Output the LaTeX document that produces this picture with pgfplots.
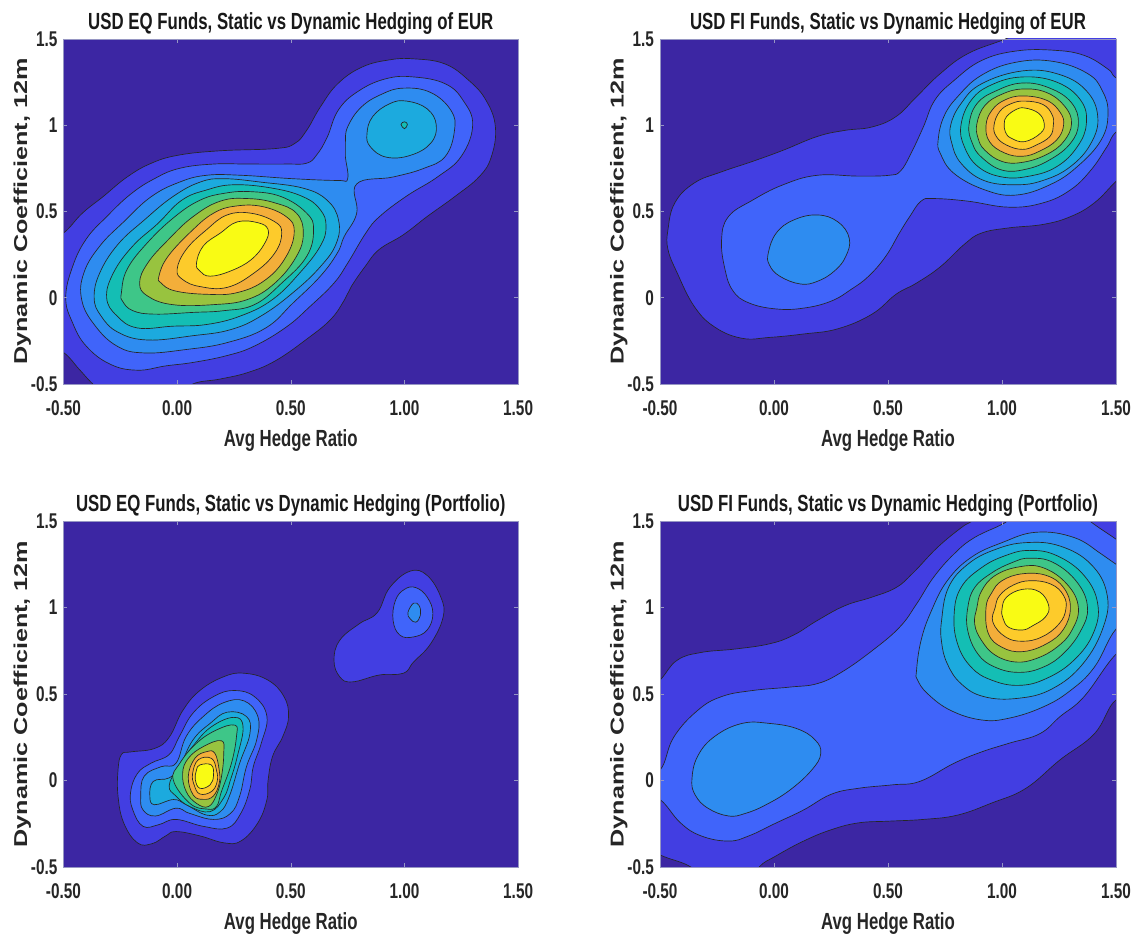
\documentclass[border=0pt]{standalone}
\usepackage{fontspec}
\usepackage{pgfplots}
\pgfplotsset{compat=1.18}
\setmainfont{Liberation Sans}
\newfontfamily\narrowfont{Liberation Sans}[FakeStretch=0.72]
\newfontfamily\widefont{Liberation Sans}[FakeStretch=1.35]
\definecolor{c0}{RGB}{60,38,163}
\definecolor{c1}{RGB}{66,62,226}
\definecolor{c2}{RGB}{64,100,250}
\definecolor{c3}{RGB}{46,140,240}
\definecolor{c4}{RGB}{28,170,222}
\definecolor{c5}{RGB}{20,190,180}
\definecolor{c6}{RGB}{62,198,136}
\definecolor{c7}{RGB}{152,195,63}
\definecolor{c8}{RGB}{243,174,58}
\definecolor{c9}{RGB}{253,203,43}
\definecolor{c10}{RGB}{249,251,20}
\definecolor{frame}{RGB}{150,150,195}
\pgfplotsset{
  cont/.style={smooth cycle,tension=0.7,draw=black!85,line width=0.5pt,fill=#1,mark=none},
  panel/.style={
    scale only axis,anchor=south west,
    xmin=-0.5,xmax=1.5,ymin=-0.5,ymax=1.5,
    axis background/.style={fill=c0},
    axis on top,
    axis line style={frame,line width=0.6pt},
    tick style={frame,line width=0.4pt},
    major tick length=3pt,
    tick pos=both,
    xtick={-0.5,0,0.5,1,1.5},
    ytick={-0.5,0,0.5,1,1.5},
    xticklabels={-0.50,0.00,0.50,1.00,1.50},
    yticklabels={-0.5,0,0.5,1,1.5},
    tick label style={font=\fontsize{16}{16}\narrowfont\bfseries,text=black!85},
    xticklabel style={yshift=-9pt},
    yticklabel style={xshift=-1pt},
    title style={font=\fontsize{17.5}{17.5}\narrowfont\bfseries,at={(axis description cs:0.5,1.012)},anchor=south,text=black!90,yshift=-9.5pt},
    xlabel={Avg Hedge Ratio},
    xlabel style={font=\fontsize{17.5}{17.5}\narrowfont\bfseries,at={(axis description cs:0.5,-0.18)},anchor=base,text=black!85},
    ylabel={Dynamic Coefficient, 12m},
    ylabel style={font=\fontsize{14}{14}\widefont\bfseries,at={(axis description cs:-0.08,0.5)},anchor=base,rotate=0,text=black!85},
  }
}
\begin{document}
\begin{tikzpicture}
\useasboundingbox (0,0) rectangle (850.5pt,704.25pt);
% Panel 1
\begin{axis}[panel,at={(47.6pt,416.25pt)},width=341pt,height=258.75pt,title={USD EQ Funds, Static vs Dynamic Hedging of EUR}]
\addplot[cont=c1] coordinates {(-0.50,0.375)(-0.417,0.49)(-0.325,0.587)(-0.22,0.70)(-0.113,0.78)(0.008,0.827)(0.19,0.852)(0.433,0.865)(0.517,0.894)(0.57,0.971)(0.63,1.106)(0.706,1.24)(0.813,1.337)(0.934,1.379)(1.04,1.385)(1.177,1.356)(1.283,1.26)(1.359,1.144)(1.40,0.99)(1.382,0.817)(1.329,0.702)(1.222,0.587)(1.10,0.471)(0.995,0.365)(0.888,0.279)(0.828,0.183)(0.767,0.067)(0.737,-0.01)(0.676,-0.125)(0.57,-0.24)(0.433,-0.365)(0.312,-0.433)(0.19,-0.471)(0.069,-0.50)(0.0,-0.58)(-0.30,-0.58)(-0.371,-0.50)(-0.432,-0.413)(-0.50,-0.317)(-0.60,-0.25)(-0.60,0.3)};
\addplot[cont=c2] coordinates {(-0.49,0.00)(-0.46,0.18)(-0.40,0.34)(-0.31,0.47)(-0.205,0.60)(-0.10,0.69)(0.01,0.75)(0.16,0.775)(0.31,0.775)(0.48,0.775)(0.57,0.78)(0.615,0.83)(0.66,0.93)(0.71,1.09)(0.80,1.20)(0.92,1.27)(1.04,1.28)(1.18,1.24)(1.26,1.14)(1.30,1.00)(1.25,0.82)(1.145,0.70)(1.01,0.59)(0.89,0.47)(0.83,0.375)(0.75,0.20)(0.69,0.085)(0.585,-0.05)(0.48,-0.17)(0.34,-0.28)(0.22,-0.335)(0.07,-0.375)(-0.05,-0.395)(-0.175,-0.42)(-0.295,-0.385)(-0.40,-0.28)(-0.46,-0.145)};
\addplot[cont=c3] coordinates {(0.75,0.69)(0.74,0.82)(0.74,0.895)(0.75,0.99)(0.81,1.105)(0.90,1.18)(0.995,1.215)(1.115,1.19)(1.205,1.085)(1.22,0.97)(1.18,0.82)(1.085,0.75)(0.95,0.70)(0.79,0.66)(0.79,0.49)(0.735,0.355)(0.705,0.26)(0.63,0.125)(0.51,-0.03)(0.39,-0.175)(0.22,-0.26)(0.04,-0.30)(-0.145,-0.32)(-0.265,-0.28)(-0.365,-0.155)(-0.42,-0.01)(-0.41,0.145)(-0.34,0.30)(-0.235,0.44)(-0.115,0.585)(0.01,0.67)(0.13,0.71)(0.28,0.71)(0.51,0.69)(0.705,0.68)};
\addplot[cont=c4] coordinates {(0.835,0.95)(0.86,1.05)(0.935,1.125)(1.01,1.14)(1.10,1.095)(1.14,1.00)(1.115,0.895)(1.025,0.825)(0.92,0.815)(0.85,0.875)};
\addplot[cont=c4] coordinates {(-0.365,0)(-0.34,0.145)(-0.26,0.31)(-0.145,0.45)(-0.02,0.585)(0.10,0.67)(0.205,0.69)(0.37,0.67)(0.555,0.635)(0.66,0.565)(0.71,0.45)(0.70,0.315)(0.63,0.18)(0.51,0.03)(0.37,-0.105)(0.235,-0.185)(0.07,-0.22)(-0.13,-0.245)(-0.26,-0.20)(-0.335,-0.105)};
\addplot[cont=c5] coordinates {(0.985,1.005)(1.0,1.02)(1.013,1.005)(1.0,0.98)};
\addplot[cont=c5] coordinates {(-0.31,0)(-0.28,0.145)(-0.195,0.30)(-0.085,0.43)(0.02,0.565)(0.13,0.625)(0.25,0.655)(0.42,0.635)(0.555,0.585)(0.63,0.51)(0.655,0.415)(0.63,0.30)(0.54,0.145)(0.42,-0.01)(0.28,-0.105)(0.13,-0.155)(-0.02,-0.165)(-0.175,-0.175)(-0.265,-0.105)};
\addplot[cont=c6] coordinates {(-0.245,0.03)(-0.22,0.165)(-0.13,0.32)(-0.01,0.47)(0.10,0.565)(0.205,0.605)(0.325,0.615)(0.46,0.585)(0.57,0.49)(0.60,0.395)(0.57,0.24)(0.46,0.085)(0.34,-0.04)(0.205,-0.075)(0.07,-0.085)(-0.10,-0.095)(-0.195,-0.075)(-0.24,-0.02)};
\addplot[cont=c7] coordinates {(-0.165,0.085)(-0.13,0.20)(-0.04,0.335)(0.07,0.47)(0.19,0.56)(0.31,0.575)(0.43,0.55)(0.525,0.49)(0.555,0.375)(0.525,0.24)(0.43,0.085)(0.31,-0.01)(0.16,-0.04)(-0.02,-0.04)(-0.13,0.01)};
\addplot[cont=c8] coordinates {(-0.08,0.125)(-0.04,0.24)(0.07,0.395)(0.16,0.49)(0.25,0.53)(0.37,0.53)(0.48,0.47)(0.515,0.385)(0.48,0.24)(0.39,0.105)(0.265,0.03)(0.13,0.02)(-0.01,0.04)(-0.07,0.085)};
\addplot[cont=c9] coordinates {(0,0.165)(0.04,0.28)(0.13,0.395)(0.22,0.48)(0.325,0.49)(0.43,0.44)(0.46,0.375)(0.43,0.26)(0.34,0.145)(0.22,0.06)(0.10,0.065)(0.025,0.105)};
\addplot[cont=c10] coordinates {(0.085,0.20)(0.115,0.30)(0.19,0.375)(0.265,0.44)(0.355,0.435)(0.40,0.395)(0.385,0.315)(0.325,0.22)(0.235,0.155)(0.145,0.125)(0.10,0.155)};
\end{axis}
% Panel 2
\begin{axis}[panel,at={(495pt,416.25pt)},width=342pt,height=258.75pt,title={USD FI Funds, Static vs Dynamic Hedging of EUR}]
\addplot[cont=c1] coordinates {(-0.465,0.395)(-0.435,0.55)(-0.35,0.665)(-0.23,0.73)(-0.095,0.79)(0.04,0.855)(0.19,0.935)(0.31,0.97)(0.43,0.99)(0.535,1.05)(0.625,1.165)(0.73,1.30)(0.85,1.415)(1.015,1.50)(1.2,1.6)(1.6,1.6)(1.6,0.8)(1.50,0.675)(1.405,0.55)(1.30,0.47)(1.18,0.425)(1.03,0.405)(0.91,0.375)(0.835,0.31)(0.73,0.18)(0.625,0.085)(0.535,0.02)(0.43,-0.095)(0.28,-0.18)(0.13,-0.21)(-0.02,-0.23)(-0.14,-0.235)(-0.26,-0.17)(-0.35,-0.05)(-0.425,0.145)(-0.465,0.28)};
\addplot[cont=c2] coordinates {(-0.23,0.335)(-0.20,0.47)(-0.095,0.565)(0.04,0.655)(0.19,0.71)(0.37,0.705)(0.505,0.71)(0.555,0.735)(0.60,0.835)(0.655,0.99)(0.705,1.145)(0.79,1.26)(0.91,1.375)(1.06,1.43)(1.225,1.435)(1.36,1.405)(1.465,1.325)(1.50,1.275)(1.6,1.2)(1.6,1.05)(1.50,0.96)(1.46,0.875)(1.39,0.74)(1.30,0.625)(1.18,0.55)(1.03,0.525)(0.85,0.56)(0.70,0.575)(0.645,0.56)(0.595,0.47)(0.55,0.375)(0.49,0.24)(0.415,0.125)(0.34,0.05)(0.25,-0.02)(0.13,-0.06)(0.01,-0.065)(-0.11,-0.03)(-0.18,0.04)(-0.215,0.165)};
\addplot[cont=c3] coordinates {(-0.025,0.26)(0.01,0.375)(0.085,0.45)(0.19,0.48)(0.28,0.44)(0.33,0.345)(0.315,0.24)(0.265,0.155)(0.19,0.095)(0.115,0.08)(0.025,0.125)(-0.02,0.19)};
\addplot[cont=c3] coordinates {(0.72,0.915)(0.745,1.05)(0.805,1.165)(0.91,1.29)(1.06,1.365)(1.225,1.37)(1.375,1.30)(1.44,1.20)(1.465,1.07)(1.435,0.915)(1.33,0.76)(1.21,0.655)(1.06,0.595)(0.925,0.625)(0.79,0.72)(0.73,0.835)};
\addplot[cont=c4] coordinates {(0.775,1.00)(0.82,1.125)(0.91,1.24)(1.09,1.315)(1.25,1.295)(1.37,1.20)(1.42,1.05)(1.39,0.895)(1.30,0.76)(1.18,0.68)(1.06,0.655)(0.92,0.68)(0.82,0.78)(0.78,0.895)};
\addplot[cont=c5] coordinates {(0.82,1.00)(0.865,1.145)(0.955,1.235)(1.09,1.28)(1.24,1.25)(1.345,1.145)(1.37,1.01)(1.33,0.875)(1.24,0.76)(1.12,0.705)(1.00,0.70)(0.895,0.76)(0.835,0.875)};
\addplot[cont=c6] coordinates {(0.855,1.00)(0.89,1.125)(0.975,1.20)(1.09,1.245)(1.21,1.215)(1.305,1.13)(1.335,1.01)(1.30,0.895)(1.21,0.80)(1.105,0.745)(1.00,0.74)(0.91,0.815)(0.87,0.895)};
\addplot[cont=c7] coordinates {(0.89,1.01)(0.925,1.115)(1.00,1.18)(1.09,1.21)(1.195,1.19)(1.275,1.11)(1.305,1.01)(1.27,0.905)(1.195,0.83)(1.09,0.785)(1.00,0.79)(0.925,0.855)(0.895,0.925)};
\addplot[cont=c8] coordinates {(0.93,1.00)(0.955,1.085)(1.01,1.145)(1.09,1.17)(1.195,1.145)(1.255,1.075)(1.27,1.00)(1.24,0.915)(1.165,0.85)(1.09,0.82)(1.01,0.84)(0.945,0.905)};
\addplot[cont=c9] coordinates {(0.965,1.00)(0.99,1.08)(1.04,1.125)(1.10,1.14)(1.18,1.12)(1.22,1.06)(1.225,1.00)(1.21,0.935)(1.15,0.885)(1.09,0.86)(1.02,0.885)(0.975,0.935)};
\addplot[cont=c10] coordinates {(1.01,1.01)(1.02,1.05)(1.06,1.09)(1.10,1.10)(1.16,1.07)(1.185,1.01)(1.17,0.955)(1.10,0.905)(1.04,0.925)(1.015,0.96)};
\end{axis}
% Panel 3
\begin{axis}[panel,at={(47.6pt,54pt)},width=341pt,height=259.5pt,title={USD EQ Funds, Static vs Dynamic Hedging (Portfolio)}]
\addplot[cont=c1] coordinates {(-0.26,0.06)(-0.245,0.15)(-0.205,0.165)(-0.10,0.185)(-0.035,0.25)(0.025,0.405)(0.10,0.52)(0.205,0.60)(0.295,0.62)(0.40,0.58)(0.47,0.485)(0.49,0.37)(0.465,0.255)(0.42,0.14)(0.40,0.00)(0.395,-0.11)(0.355,-0.245)(0.28,-0.35)(0.205,-0.36)(0.10,-0.32)(-0.005,-0.295)(-0.05,-0.32)(-0.11,-0.365)(-0.175,-0.36)(-0.235,-0.245)(-0.26,-0.09)};
\addplot[cont=c2] coordinates {(-0.205,-0.07)(-0.175,0.04)(-0.115,0.10)(-0.035,0.15)(0.01,0.255)(0.07,0.39)(0.16,0.485)(0.25,0.52)(0.34,0.485)(0.395,0.37)(0.37,0.215)(0.335,0.08)(0.32,-0.05)(0.28,-0.19)(0.22,-0.275)(0.115,-0.265)(-0.005,-0.225)(-0.08,-0.255)(-0.15,-0.265)(-0.195,-0.17)};
\addplot[cont=c3] coordinates {(-0.16,-0.09)(-0.145,0.025)(-0.07,0.08)(-0.005,0.10)(0.04,0.255)(0.115,0.37)(0.205,0.45)(0.295,0.46)(0.355,0.37)(0.35,0.235)(0.305,0.08)(0.275,-0.09)(0.235,-0.19)(0.16,-0.225)(0.055,-0.19)(-0.005,-0.16)(-0.095,-0.205)(-0.15,-0.17)};
\addplot[cont=c4] coordinates {(-0.12,-0.09)(-0.105,-0.005)(-0.035,0.015)(0.01,0.08)(0.07,0.235)(0.145,0.33)(0.22,0.395)(0.305,0.37)(0.32,0.27)(0.275,0.10)(0.23,-0.09)(0.19,-0.18)(0.13,-0.20)(0.04,-0.14)(-0.015,-0.11)(-0.10,-0.14)};
\addplot[cont=c5] coordinates {(-0.035,-0.03)(0.005,0.08)(0.07,0.20)(0.15,0.31)(0.25,0.365)(0.29,0.31)(0.265,0.14)(0.235,0.005)(0.205,-0.10)(0.145,-0.18)(0.055,-0.15)(-0.005,-0.09)};
\addplot[cont=c6] coordinates {(-0.017,0.003)(0.012,0.10)(0.085,0.215)(0.173,0.292)(0.254,0.32)(0.261,0.254)(0.239,0.10)(0.195,-0.064)(0.173,-0.15)(0.13,-0.165)(0.056,-0.132)};
\addplot[cont=c7] coordinates {(0.024,0.04)(0.049,0.128)(0.115,0.196)(0.195,0.23)(0.205,0.157)(0.195,0.022)(0.173,-0.084)(0.137,-0.151)(0.085,-0.132)(0.04,-0.064)};
\addplot[cont=c8] coordinates {(0.049,0.022)(0.078,0.128)(0.13,0.167)(0.166,0.157)(0.185,0.06)(0.185,-0.016)(0.159,-0.09)(0.115,-0.109)(0.071,-0.084)};
\addplot[cont=c9] coordinates {(0.068,0.04)(0.093,0.12)(0.151,0.128)(0.173,0.06)(0.176,-0.006)(0.151,-0.064)(0.10,-0.078)(0.075,-0.026)};
\addplot[cont=c10] coordinates {(0.085,0.06)(0.10,0.09)(0.15,0.09)(0.16,0.03)(0.145,-0.025)(0.10,-0.045)(0.08,0.005)};
\addplot[cont=c1] coordinates {(0.69,0.695)(0.715,0.81)(0.80,0.905)(0.88,0.97)(0.935,1.115)(1.025,1.21)(1.10,1.185)(1.16,1.06)(1.17,0.945)(1.115,0.79)(1.04,0.685)(0.995,0.62)(0.89,0.61)(0.77,0.57)(0.715,0.60)};
\addplot[cont=c2] coordinates {(0.95,0.925)(0.96,1.04)(1.00,1.105)(1.05,1.115)(1.10,1.06)(1.125,0.965)(1.10,0.87)(1.04,0.83)(0.98,0.84)};
\addplot[cont=c3] coordinates {(1.015,0.97)(1.04,1.025)(1.065,1.01)(1.07,0.955)(1.05,0.915)(1.025,0.935)};
\end{axis}
% Panel 4
\begin{axis}[panel,at={(495pt,54pt)},width=342pt,height=259.5pt,title={USD FI Funds, Static vs Dynamic Hedging (Portfolio)}]
\addplot[cont=c1] coordinates {(-0.50,0.58)(-0.425,0.695)(-0.32,0.74)(-0.17,0.76)(-0.02,0.79)(0.085,0.84)(0.19,0.925)(0.31,1.01)(0.43,1.06)(0.535,1.115)(0.61,1.20)(0.715,1.345)(0.82,1.46)(0.87,1.50)(1.0,1.6)(1.6,1.6)(1.6,0.45)(1.50,0.465)(1.405,0.27)(1.255,0.12)(1.105,-0.045)(0.955,-0.13)(0.805,-0.20)(0.655,-0.225)(0.505,-0.235)(0.37,-0.245)(0.25,-0.285)(0.13,-0.35)(0.01,-0.435)(-0.065,-0.50)(-0.1,-0.6)(-0.3,-0.6)(-0.365,-0.50)(-0.50,-0.43)(-0.6,-0.35)(-0.6,0.45)};
\addplot[cont=c2] coordinates {(-0.50,0.06)(-0.44,0.25)(-0.335,0.405)(-0.23,0.485)(-0.095,0.52)(0.07,0.54)(0.19,0.56)(0.295,0.625)(0.43,0.75)(0.55,0.885)(0.625,1.02)(0.70,1.175)(0.79,1.31)(0.88,1.405)(1.025,1.50)(1.1,1.6)(1.3,1.6)(1.385,1.50)(1.50,1.395)(1.6,1.3)(1.6,0.8)(1.50,0.73)(1.36,0.485)(1.255,0.37)(1.165,0.27)(1.03,0.215)(0.91,0.165)(0.79,0.10)(0.64,-0.005)(0.52,-0.025)(0.37,-0.045)(0.25,-0.08)(0.13,-0.17)(0.01,-0.245)(-0.11,-0.32)(-0.20,-0.35)(-0.32,-0.32)(-0.41,-0.245)(-0.50,-0.11)(-0.6,-0.05)(-0.6,0.0)};
\addplot[cont=c3] coordinates {(-0.36,0.005)(-0.335,0.14)(-0.26,0.255)(-0.14,0.33)(-0.02,0.33)(0.10,0.30)(0.18,0.235)(0.205,0.155)(0.165,0.06)(0.07,-0.055)(-0.035,-0.14)(-0.125,-0.19)(-0.20,-0.205)(-0.29,-0.16)(-0.345,-0.085)};
\addplot[cont=c3] coordinates {(0.625,0.635)(0.645,0.81)(0.69,0.98)(0.76,1.155)(0.865,1.29)(1.00,1.375)(1.15,1.435)(1.315,1.405)(1.435,1.31)(1.50,1.25)(1.6,1.15)(1.6,0.95)(1.50,0.875)(1.405,0.655)(1.30,0.52)(1.18,0.425)(1.03,0.36)(0.91,0.35)(0.775,0.405)(0.675,0.50)(0.63,0.58)};
\addplot[cont=c4] coordinates {(0.735,0.925)(0.765,1.115)(0.85,1.25)(0.97,1.335)(1.105,1.375)(1.255,1.355)(1.39,1.25)(1.46,1.08)(1.445,0.89)(1.355,0.675)(1.22,0.53)(1.07,0.475)(0.92,0.485)(0.82,0.56)(0.76,0.675)(0.735,0.80)};
\addplot[cont=c5] coordinates {(0.79,0.96)(0.82,1.115)(0.91,1.23)(1.015,1.30)(1.12,1.33)(1.24,1.30)(1.36,1.185)(1.42,1.02)(1.40,0.85)(1.315,0.695)(1.195,0.59)(1.075,0.55)(0.955,0.58)(0.865,0.655)(0.805,0.79)};
\addplot[cont=c6] coordinates {(0.85,1.00)(0.88,1.115)(0.955,1.20)(1.045,1.26)(1.12,1.285)(1.225,1.26)(1.33,1.145)(1.375,1.00)(1.345,0.865)(1.27,0.735)(1.18,0.655)(1.075,0.625)(0.97,0.655)(0.895,0.73)(0.85,0.865)};
\addplot[cont=c7] coordinates {(0.89,1.00)(0.91,1.095)(0.97,1.185)(1.075,1.235)(1.18,1.23)(1.285,1.135)(1.335,1.00)(1.305,0.865)(1.24,0.77)(1.15,0.705)(1.06,0.685)(0.97,0.725)(0.91,0.81)(0.88,0.905)};
\addplot[cont=c8] coordinates {(0.93,1.00)(0.955,1.085)(1.00,1.155)(1.09,1.195)(1.195,1.185)(1.27,1.115)(1.30,1.00)(1.27,0.875)(1.195,0.79)(1.09,0.745)(1.00,0.77)(0.94,0.85)};
\addplot[cont=c9] coordinates {(0.97,1.00)(0.99,1.07)(1.05,1.13)(1.125,1.155)(1.215,1.135)(1.27,1.07)(1.28,0.99)(1.25,0.905)(1.175,0.83)(1.09,0.805)(1.015,0.83)(0.96,0.915)};
\addplot[cont=c10] coordinates {(1.00,0.99)(1.02,1.06)(1.09,1.105)(1.165,1.09)(1.205,1.01)(1.19,0.945)(1.135,0.895)(1.09,0.87)(1.03,0.885)(1.005,0.935)};
\end{axis}
\end{tikzpicture}
\end{document}
